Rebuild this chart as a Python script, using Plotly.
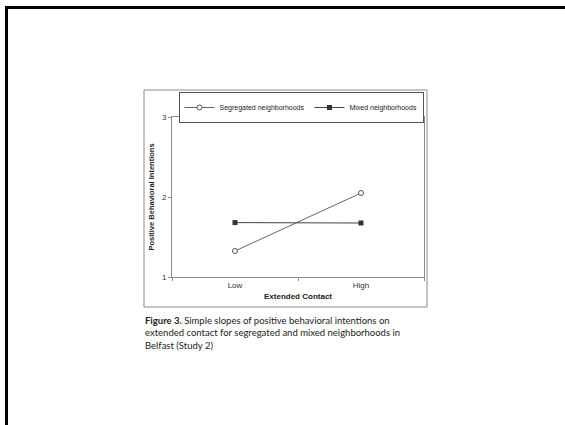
import plotly.graph_objects as go

categories = ["Low", "High"]
segregated = [1.325, 2.05]
mixed = [1.68, 1.675]
y_ticks = [1, 2, 3]

W, H = 565, 425
ML, MR = 10, 10               # page margins (plot area spans nearly full width)
L, R, T, B = 172, 424, 117, 277  # axes pixel box
GW = W - ML - MR

def px(x):
    return (x - ML) / GW

def py(y):
    return (B - y) / (B - T)

fig = go.Figure()
fig.add_trace(go.Scatter(
    x=categories, y=segregated, name="Segregated neighborhoods",
    mode="lines+markers",
    line=dict(color="#666666", width=1),
    marker=dict(symbol="circle", size=5, color="white", line=dict(color="#555555", width=1)),
))
fig.add_trace(go.Scatter(
    x=categories, y=mixed, name="Mixed neighborhoods",
    mode="lines+markers",
    line=dict(color="#444444", width=1),
    marker=dict(symbol="square", size=5, color="#333333", line=dict(color="#333333", width=0)),
))

gray = "#8c8c8c"
shapes = [
    dict(type="line", xref="paper", yref="paper", x0=px(5), x1=px(566), y0=py(7.5), y1=py(7.5),
         line=dict(color="black", width=3)),
    dict(type="line", xref="paper", yref="paper", x0=px(6.5), x1=px(6.5), y0=py(6), y1=py(426),
         line=dict(color="black", width=3)),
    dict(type="rect", xref="paper", yref="paper", x0=px(144), x1=px(427), y0=py(90), y1=py(307),
         line=dict(color=gray, width=1)),
]

caption = ("<b>Figure 3.</b> Simple slopes of positive behavioral intentions on<br>"
           "extended contact for segregated and mixed neighborhoods in<br>"
           "Belfast (Study 2)")

fig.update_layout(
    width=W, height=H,
    margin=dict(l=ML, r=MR, t=T, b=H - B, pad=0, autoexpand=False),
    paper_bgcolor="white", plot_bgcolor="white",
    font=dict(family="Liberation Sans, Arial, sans-serif", size=8, color="#333333"),
    showlegend=True,
    legend=dict(orientation="h", x=px(301), y=py(92), xanchor="center", yanchor="top",
                bordercolor="#555555", borderwidth=1, bgcolor="white",
                font=dict(size=7, color="#222222"), itemwidth=30, tracegroupgap=0),
    shapes=shapes,
    annotations=[
        dict(text=caption, xref="paper", yref="paper", x=px(143), y=py(313),
             xanchor="left", yanchor="top", align="left", showarrow=False,
             font=dict(family="Lato, Open Sans, sans-serif", size=9.5, color="#222222")),
    ],
    xaxis=dict(
        type="category", range=[-0.5, 1.5], domain=[px(L), px(R)],
        showline=True, linecolor=gray, linewidth=1, mirror=True,
        ticks="outside", ticklen=3, tickcolor=gray, tickson="boundaries",
        showgrid=False, zeroline=False, tickfont=dict(size=8, color="#333333"),
        title=dict(text="<b>Extended Contact</b>", font=dict(size=8, color="#222222"), standoff=4),
    ),
    yaxis=dict(
        range=[1, 3], tickvals=y_ticks,
        showline=True, linecolor=gray, linewidth=1, mirror=True,
        ticks="outside", ticklen=3, tickcolor=gray,
        showgrid=False, zeroline=False, tickfont=dict(size=8, color="#333333"),
        title=dict(text="<b>Positive Behavioral Intentions</b>", font=dict(size=7.5, color="#222222"), standoff=6),
    ),
)

fig.write_html("out.html", config={"displayModeBar": False},
               post_script="document.body.style.margin='0';")
